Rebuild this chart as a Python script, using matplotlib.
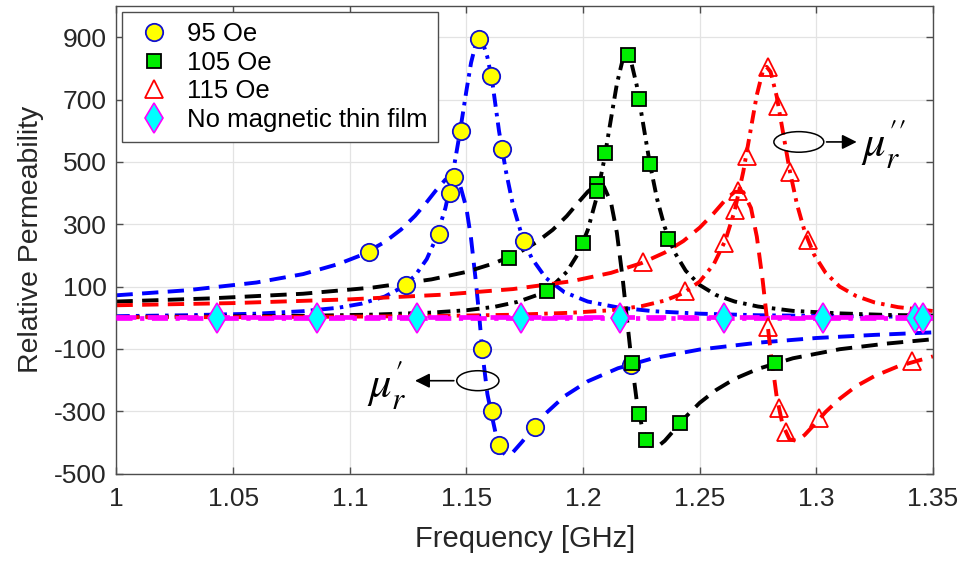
import matplotlib
matplotlib.use("Agg")
import matplotlib.pyplot as plt
from matplotlib.lines import Line2D
from matplotlib.patches import Ellipse

plt.rcParams['font.family'] = ['Liberation Sans', 'DejaVu Sans']
plt.rcParams['mathtext.fontset'] = 'stix'

# ---------------- data ----------------
# 95 Oe bias field
freq_95 = [1.000, 1.030, 1.060, 1.080, 1.095, 1.105, 1.115, 1.122, 1.128, 1.133,
           1.137, 1.141, 1.144, 1.147, 1.150, 1.152, 1.154, 1.1555, 1.157, 1.159,
           1.161, 1.164, 1.167, 1.170, 1.174, 1.178, 1.184, 1.192, 1.202, 1.215,
           1.230, 1.250, 1.275, 1.300, 1.325, 1.350]
mu_re_95 = [72, 88, 113, 140, 172, 201, 243, 283, 327, 371,
            409, 443, 453, 433, 352, 254, 120, 6, -122, -245,
            -318, -421, -441, -431, -397, -359, -307, -252, -204, -162,
            -130, -102, -80, -65, -55, -47]
mu_im_95 = [5, 8, 13, 21, 32, 45, 68, 96, 135, 188,
            255, 352, 455, 585, 728, 818, 878, 895, 883, 836,
            762, 598, 468, 360, 258, 191, 128, 82, 52, 33,
            21, 13, 8, 6, 4, 3]
pts_re_95_f = [1.1081, 1.1446, 1.1566, 1.1609, 1.1638, 1.1794, 1.2205]
pts_re_95_v = [210, 453, -100, -300, -408, -349, -152]
pts_im_95_f = [1.1240, 1.1381, 1.1428, 1.1476, 1.1555, 1.1605, 1.1652, 1.1745]
pts_im_95_v = [105, 268, 400, 600, 895, 774, 542, 245]

# 105 Oe bias field
freq_105 = [1.000, 1.040, 1.080, 1.110, 1.135, 1.150, 1.162, 1.172, 1.180, 1.187,
            1.193, 1.198, 1.202, 1.2057, 1.209, 1.212, 1.2145, 1.217, 1.2187, 1.2204,
            1.223, 1.2255, 1.2285, 1.2317, 1.235, 1.239, 1.244, 1.250, 1.257, 1.265,
            1.275, 1.290, 1.310, 1.330, 1.350]
mu_re_105 = [52, 62, 77, 97, 123, 147, 175, 207, 242, 282,
             326, 370, 404, 427, 420, 369, 273, 125, 6, -113,
             -266, -359, -410, -415, -395, -361, -318, -273, -232, -196,
             -164, -130, -101, -83, -69]
mu_im_105 = [2.5, 3.7, 6, 10, 16.5, 24, 35, 51, 72, 103,
             147, 207, 281, 382, 504, 639, 750, 828, 845, 828,
             746, 634, 500, 382, 291, 213, 151, 105, 73, 52,
             36, 22, 14, 9, 7]
pts_re_105_f = [1.1683, 1.2061, 1.2208, 1.2241, 1.2269, 1.2415, 1.2822]
pts_re_105_v = [191, 430, -144, -310, -392, -338, -146]
pts_im_105_f = [1.1844, 1.1998, 1.2061, 1.2095, 1.2191, 1.2241, 1.2286, 1.2365]
pts_im_105_v = [87, 241, 405, 530, 843, 702, 492, 253]

# 115 Oe bias field
freq_115 = [1.000, 1.050, 1.100, 1.140, 1.170, 1.195, 1.212, 1.225, 1.235, 1.243,
            1.250, 1.256, 1.261, 1.265, 1.2687, 1.272, 1.2745, 1.277, 1.2787, 1.2804,
            1.283, 1.2855, 1.2885, 1.2917, 1.295, 1.299, 1.304, 1.310, 1.317, 1.325,
            1.335, 1.350]
mu_re_115 = [40, 47, 59, 74, 92, 117, 144, 175, 209, 246,
             289, 335, 378, 404, 403, 352, 260, 120, 6, -108,
             -253, -342, -390, -395, -376, -344, -302, -260, -220, -187,
             -156, -124]
mu_im_115 = [1.5, 2, 3.5, 6, 9.5, 16, 24, 37, 55, 79,
             116, 171, 248, 343, 469, 609, 715, 789, 805, 789,
             711, 604, 476, 364, 277, 203, 144, 100, 70, 49,
             34, 21.5]
pts_re_115_f = [1.2255, 1.2665, 1.2793, 1.2841, 1.2872, 1.3012, 1.3411]
pts_re_115_v = [178, 406, -30, -288, -368, -322, -138]
pts_im_115_f = [1.2436, 1.2604, 1.2651, 1.2701, 1.2793, 1.2836, 1.2886, 1.2965]
pts_im_115_v = [85, 239, 346, 520, 803, 680, 469, 250]

# reference without magnetic thin film
freq_ref = [1.000, 1.350]
mu_re_ref = [3, 3]
mu_im_ref = [0, 0]
pts_ref_f = [1.0429, 1.0858, 1.1287, 1.1732, 1.2158, 1.2603, 1.3029, 1.3422, 1.3458]
pts_ref_v = [0, 0, 0, 0, 0, 0, 0, 0, 0]

x_ticks = [1.0, 1.05, 1.1, 1.15, 1.2, 1.25, 1.3, 1.35]
x_tick_labels = ['1', '1.05', '1.1', '1.15', '1.2', '1.25', '1.3', '1.35']
y_ticks = [-500, -300, -100, 100, 300, 500, 700, 900]
y_tick_labels = ['-500', '-300', '-100', '100', '300', '500', '700', '900']

legend_labels = ['95 Oe', '105 Oe', '115 Oe', 'No magnetic thin film']

# ---------------- styles ----------------
LW = 2.8
DASH = (4.2, 2.4)
DASHDOT = (3.4, 1.6, 0.9, 1.6)

series = [
    dict(f=freq_95, re=mu_re_95, im=mu_im_95, color='#0000ff',
         prf=pts_re_95_f, prv=pts_re_95_v, pif=pts_im_95_f, piv=pts_im_95_v,
         marker='o', ms=12.5, mfc='#ffff00', mec='#1010d0'),
    dict(f=freq_105, re=mu_re_105, im=mu_im_105, color='#000000',
         prf=pts_re_105_f, prv=pts_re_105_v, pif=pts_im_105_f, piv=pts_im_105_v,
         marker='s', ms=9.5, mfc='#00ee00', mec='#000000'),
    dict(f=freq_115, re=mu_re_115, im=mu_im_115, color='#ff0000',
         prf=pts_re_115_f, prv=pts_re_115_v, pif=pts_im_115_f, piv=pts_im_115_v,
         marker='^', ms=13, mfc='none', mec='#ff0000'),
]

fig = plt.figure(figsize=(9.65, 5.63), dpi=100)
ax = fig.add_axes([0.1207, 0.1588, 0.8461, 0.8305])

for s in series:
    ax.plot(s['f'], s['re'], color=s['color'], lw=LW, dashes=DASH, zorder=2)
    ax.plot(s['f'], s['im'], color=s['color'], lw=LW, dashes=DASHDOT, zorder=2)

ax.plot(freq_ref, mu_re_ref, color='#ff00ff', lw=LW + 0.6, dashes=DASH, zorder=3)
ax.plot(freq_ref, mu_im_ref, color='#ff00ff', lw=LW + 0.6, dashes=DASHDOT, zorder=3)

for s in series:
    for fx, vy in ((s['prf'], s['prv']), (s['pif'], s['piv'])):
        ax.plot(fx, vy, ls='none', marker=s['marker'], ms=s['ms'],
                mfc=s['mfc'], mec=s['mec'], mew=1.3, zorder=4)

ax.plot(pts_ref_f, pts_ref_v, ls='none', marker='d', ms=15,
        mfc='#00ffff', mec='#ff00ff', mew=1.2, zorder=5)

# axes styling
ax.set_xlim(1.0, 1.35)
ax.set_ylim(-500, 1000)
ax.set_xticks(x_ticks)
ax.set_xticklabels(x_tick_labels)
ax.set_yticks(y_ticks)
ax.set_yticklabels(y_tick_labels)
ax.grid(True, color='#e3e3e3', lw=0.9, zorder=0)
ax.set_axisbelow(True)
for sp in ax.spines.values():
    sp.set_color('#4d4d4d')
    sp.set_linewidth(1.0)
ax.tick_params(axis='both', which='both', direction='in', length=5,
               top=True, right=True, color='#4d4d4d', labelsize=19,
               labelcolor='#262626', width=1.0)
ax.tick_params(axis='x', pad=10)
ax.tick_params(axis='y', pad=7)
ax.set_xlabel('Frequency [GHz]', fontsize=21, color='#262626', labelpad=10)
ax.set_ylabel('Relative Permeability', fontsize=20.5, color='#262626', labelpad=7)

# legend (markers only)
handles = [Line2D([], [], ls='none', marker=s['marker'], ms=s['ms'],
                  mfc=s['mfc'], mec=s['mec'], mew=1.3) for s in series]
handles.append(Line2D([], [], ls='none', marker='d', ms=15,
                      mfc='#00ffff', mec='#ff00ff', mew=1.2))
leg = ax.legend(handles, legend_labels, loc='upper left',
                bbox_to_anchor=(0.0064, 0.9878), borderaxespad=0,
                fontsize=18.5, borderpad=0.4, labelspacing=0.18,
                handlelength=1.7, handletextpad=0.45, fancybox=False,
                framealpha=1, edgecolor='#4d4d4d')
leg.get_frame().set_linewidth(1.0)
leg.set_zorder(10)

# annotations for real and imaginary parts
ax.add_patch(Ellipse((1.1549, -202), 0.0181, 64, fill=False, ec='k', lw=1.1, zorder=6))
ax.annotate('', xy=(1.1268, -202), xytext=(1.1458, -202),
            arrowprops=dict(arrowstyle='-|>', color='k', lw=1.2, mutation_scale=22),
            zorder=6)
ax.text(1.1157, -215, r'$\mu_r^{\prime}$', fontsize=32, ha='center', va='center',
        color='k', zorder=6)

ax.add_patch(Ellipse((1.2925, 564), 0.0214, 66, fill=False, ec='k', lw=1.1, zorder=6))
ax.annotate('', xy=(1.3185, 564), xytext=(1.3032, 564),
            arrowprops=dict(arrowstyle='-|>', color='k', lw=1.2, mutation_scale=22),
            zorder=6)
ax.text(1.3290, 560, r'$\mu_r^{\prime\prime}$', fontsize=32, ha='center', va='center',
        color='k', zorder=6)

fig.savefig('out.png', dpi=100, facecolor='white')
